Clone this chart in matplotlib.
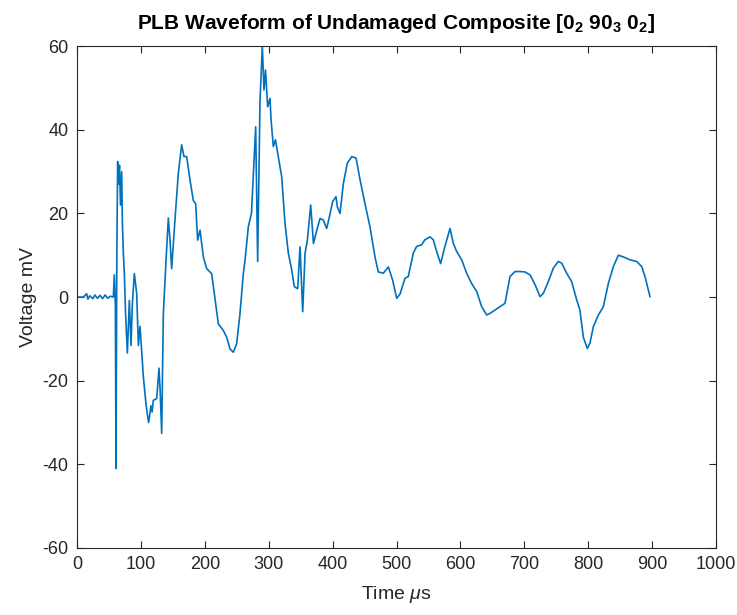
import matplotlib.pyplot as plt

plt.rcParams['font.family'] = ['Liberation Sans', 'DejaVu Sans']
plt.rcParams['mathtext.fontset'] = 'custom'
plt.rcParams['mathtext.rm'] = 'Liberation Sans'
plt.rcParams['mathtext.it'] = 'Liberation Sans:italic'
plt.rcParams['mathtext.bf'] = 'Liberation Sans:bold'
plt.rcParams['axes.unicode_minus'] = False

# waveform (time in us, voltage in mV)
time_us = [0, 10, 15, 17, 20, 25, 28, 32, 36, 40, 44, 48, 52, 56.8,
           58.4, 60, 61, 62.3, 63.6, 65, 66.5, 68, 69.9, 71, 72.5, 74.1, 76,
           78.8, 81.9, 84.5, 86.6, 89.7, 93.4, 96, 98.6, 103.8, 108, 110,
           112.1, 115.8, 117.5, 119.4, 124.7, 128.3, 130, 132.5, 135.1, 138.8,
           142.9, 145.5, 148.1, 153.3, 158.6, 163.8, 167.4, 171.6, 176.8, 182,
           185.7, 188.8, 192.5, 197.7, 202.9, 210.7, 214.9, 221.2, 229, 234.2,
           239.4, 244.6, 249.8, 255, 260.3, 263, 268.1, 273, 279.6, 282.7,
           286.4, 290, 292.6, 295, 298.4, 302, 303.7, 307.2, 310.5, 314, 320.3,
           325.5, 330.7, 336, 340, 345.4, 349, 353.2, 356.9, 360.5, 365.7, 370,
           375.3, 380.3, 385.5, 390.7, 395, 400, 405.3, 407.4, 411.6, 416.8,
           423, 430, 436.8, 443, 450.7, 458.5, 466.3, 471.5, 479.4, 487.3, 494,
           500.3, 505.5, 513.3, 518.4, 526.3, 531.5, 539.3, 544.5, 552.4,
           557.6, 562.8, 569, 575.8, 583.7, 589, 594.1, 602, 609.8, 617.7,
           625.5, 633.3, 641.2, 646.4, 654.2, 662, 669.8, 677.6, 685.4, 693.3,
           701, 709, 717, 724.6, 729.8, 737.6, 745.4, 753.2, 758.5, 766.3,
           774.1, 782, 787, 792.4, 798.6, 802.8, 808, 815.9, 823.7, 831.6,
           839.4, 847.2, 855, 865.4, 875.9, 883.7, 888.9, 896.7]
voltage_mv = [0, 0, 0.8, -0.5, 0.3, -0.4, 0.5, -0.3, 0.4, -0.4, 0.5, -0.3, 0.2, 0,
              5.3, -2, -41, 10, 32.4, 27, 31.5, 22, 30, 18, 10.4, 5.6, -4,
              -13.4, -0.8, -11.6, -1.6, 5.6, 0.8, -11.6, -7, -19, -25.7, -28,
              -30, -26, -27.5, -24.7, -24.3, -17, -22, -32.6, -4, 7.3,
              18.9, 13.6, 6.8, 18.5, 29.7, 36.4, 33.6, 33.6, 28, 23.1,
              22.3, 13.6, 16, 9.6, 6.8, 5.6, 0.8, -6.4, -8, -9.6,
              -12.4, -13.2, -11.2, -4, 5.6, 8.9, 16.8, 20, 40.7, 8.5,
              47, 60, 49.5, 54.3, 45.5, 47.5, 42.4, 36, 37.6, 34.5, 28.8,
              17.6, 10.5, 6.5, 2.5, 2, 12, -3.5, 10.5, 13.6, 22, 12.8,
              16, 18.8, 18.4, 16.4, 19.2, 22.8, 24, 21.6, 20, 27.1,
              32, 33.6, 33.2, 28, 22.3, 16.8, 9.6, 6, 5.7, 7.2, 4,
              -0.3, 0.7, 4.5, 4.9, 10.5, 12.1, 12.5, 13.7, 14.4,
              13.7, 10.9, 8, 12.1, 16.4, 12.8, 10.9, 8.9, 5.7, 3.2,
              1.3, -2.3, -4.3, -3.9, -3.1, -2.3, -1.5, 4.9, 6.1, 6.1,
              6, 5.3, 2.9, 0.1, 0.9, 3.7, 6.9, 8.5, 8.1, 5.7,
              3.7, -0.7, -3.1, -9.6, -12.3, -11, -7.1, -4.3, -2.3, 3.3,
              7.3, 10, 9.6, 8.9, 8.5, 7.3, 4.9, 0.1]

xticks = list(range(0, 1001, 100))
yticks = list(range(-60, 61, 20))

fig = plt.figure(figsize=(7.37, 6.15), dpi=100)
ax = fig.add_axes([0.1045, 0.109, 0.867, 0.816])

ax.plot(time_us, voltage_mv, color='#0072BD', linewidth=1.2)

ax.set_xlim(0, 1000)
ax.set_ylim(-60, 60)
ax.set_xticks(xticks)
ax.set_yticks(yticks)
ax.tick_params(direction='in', top=True, right=True, length=5, width=0.8,
               labelsize=13, colors='#262626', pad=6)
for s in ax.spines.values():
    s.set_color('#262626')
    s.set_linewidth(0.8)

ax.set_xlabel(r'Time $\mu$s', fontsize=14, color='#262626', labelpad=8)
ax.set_ylabel('Voltage mV', fontsize=14, color='#262626', labelpad=4)
ax.set_title(r'PLB Waveform of Undamaged Composite [0$_\mathbf{2}$ 90$_\mathbf{3}$ 0$_\mathbf{2}$]',
             fontsize=15, fontweight='bold', pad=12)

fig.savefig('out.png', dpi=100)
